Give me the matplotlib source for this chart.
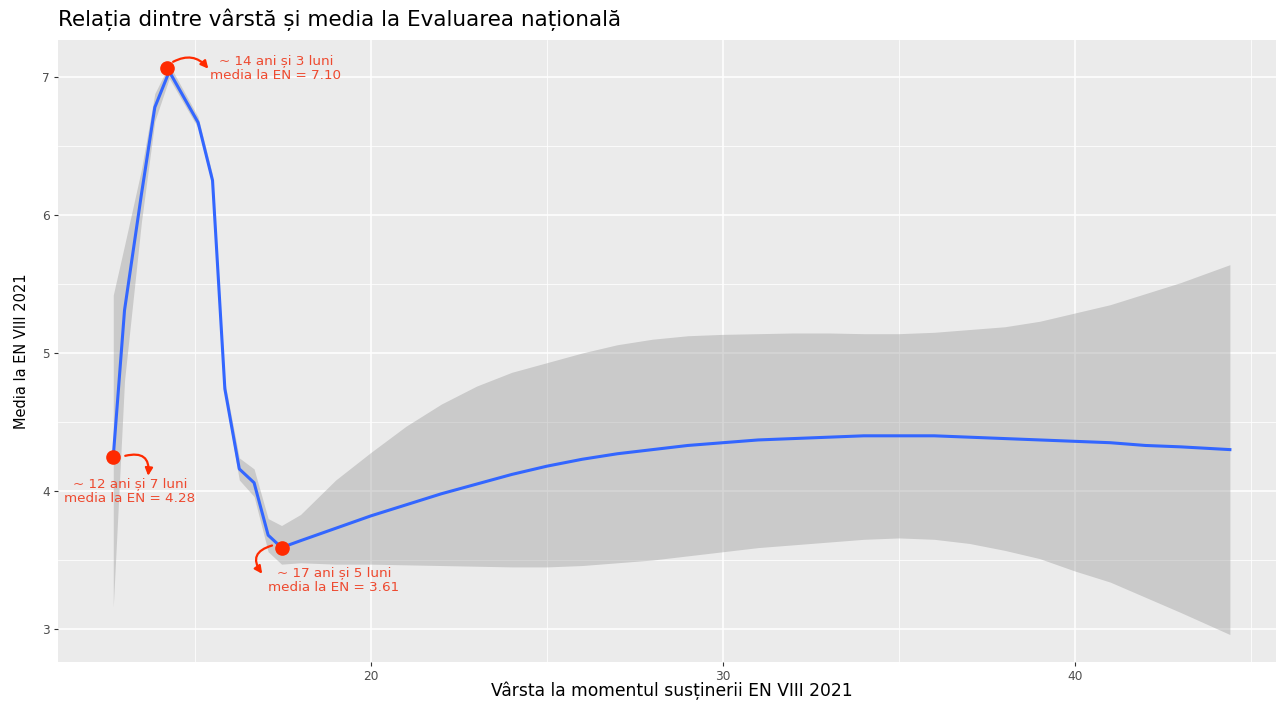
import matplotlib
matplotlib.use('Agg')
import matplotlib.pyplot as plt
import numpy as np

plt.rcParams['font.family'] = ['DejaVu Sans']

# piecewise part of the fit (young ages)
age_left = [12.68, 13.0, 13.48, 13.86, 14.27, 15.09, 15.5, 15.85, 16.26, 16.68, 17.08, 17.46]
mean_left = [4.25, 5.31, 6.15, 6.78, 7.04, 6.67, 6.25, 4.74, 4.16, 4.06, 3.68, 3.59]
upper_left = [5.42, 5.78, 6.33, 6.88, 7.09, 6.71, 6.29, 4.79, 4.24, 4.16, 3.80, 3.75]
lower_left = [3.16, 4.80, 5.95, 6.68, 6.99, 6.63, 6.21, 4.69, 4.08, 3.96, 3.56, 3.47]

# smooth part (older ages)
age_right = [17.46, 18, 19, 20, 21, 22, 23, 24, 25, 26, 27, 28, 29, 30, 31, 32, 33,
             34, 35, 36, 37, 38, 39, 40, 41, 42, 43, 44.4]
mean_right = [3.59, 3.64, 3.73, 3.82, 3.90, 3.98, 4.05, 4.12, 4.18, 4.23, 4.27, 4.30,
              4.33, 4.35, 4.37, 4.38, 4.39, 4.40, 4.40, 4.40, 4.39, 4.38, 4.37, 4.36,
              4.35, 4.33, 4.32, 4.30]
upper_right = [3.75, 3.83, 4.08, 4.28, 4.47, 4.63, 4.76, 4.86, 4.93, 5.00, 5.06, 5.10,
               5.125, 5.135, 5.14, 5.145, 5.145, 5.14, 5.14, 5.15, 5.17, 5.19, 5.23, 5.29,
               5.35, 5.43, 5.51, 5.64]
lower_right = [3.47, 3.48, 3.47, 3.47, 3.465, 3.46, 3.455, 3.45, 3.45, 3.46, 3.48, 3.50,
               3.53, 3.56, 3.59, 3.61, 3.63, 3.65, 3.66, 3.65, 3.62, 3.57, 3.51, 3.42,
               3.34, 3.23, 3.12, 2.96]

# highlighted points
pt_age = [12.67, 14.2, 17.47]
pt_mean = [4.25, 7.065, 3.59]
pt_labels = ['~ 12 ani și 7 luni\nmedia la EN = 4.28',
             '~ 14 ani și 3 luni\nmedia la EN = 7.10',
             '~ 17 ani și 5 luni\nmedia la EN = 3.61']
label_pos = [(13.15, 4.0), (17.3, 7.065), (18.95, 3.355)]
arrow_from = [(13.02, 4.255), (14.38, 7.11), (17.19, 3.605)]
arrow_to = [(13.67, 4.11), (15.38, 7.06), (16.91, 3.40)]
arrow_rad = [-0.7, -0.4, 0.7]

fig = plt.figure(figsize=(12.76, 7.01), dpi=100)
ax = fig.add_axes([58 / 1276, 1 - 662 / 701, 1 - 58 / 1276, 622 / 701])
ax.set_facecolor('#EBEBEB')

ages = age_left + age_right[1:]
upper = upper_left + upper_right[1:]
lower = lower_left + lower_right[1:]
means = mean_left + mean_right[1:]

ax.fill_between(ages, lower, upper, color='#999999', alpha=0.4, lw=0, zorder=2)
ax.plot(ages, means, color='#3366FF', lw=2.2, zorder=3)

ax.plot(pt_age, pt_mean, 'o', color='#FF2A00', ms=9.5, zorder=4)

for (tx, ty), lab in zip(label_pos, pt_labels):
    ax.text(tx, ty, lab, ha='center', va='center', color='#EE4A30',
            fontsize=9.7, linespacing=1.15, zorder=5)

for a, b, r in zip(arrow_from, arrow_to, arrow_rad):
    ax.annotate('', xy=b, xytext=a,
                arrowprops=dict(arrowstyle='-|>', color='#FF2A00', lw=1.6,
                                mutation_scale=11, shrinkA=0, shrinkB=0,
                                connectionstyle=f'arc3,rad={r}'), zorder=5)

ax.set_xlim(11.11, 45.71)
ax.set_ylim(2.761, 7.268)
ax.set_xticks([20, 30, 40])
ax.set_yticks([3, 4, 5, 6, 7])
ax.set_xticks([15, 25, 35, 45], minor=True)
ax.set_yticks([3.5, 4.5, 5.5, 6.5], minor=True)
ax.grid(which='major', color='white', lw=1.1, zorder=1)
ax.grid(which='minor', color='white', lw=0.55, zorder=1)
ax.set_axisbelow(True)
for s in ax.spines.values():
    s.set_visible(False)
ax.tick_params(which='major', length=3, width=0.8, color='#333333',
               labelcolor='#4D4D4D', labelsize=8.7, pad=3)
ax.tick_params(which='minor', length=0)

ax.set_xlabel('Vârsta la momentul susținerii EN VIII 2021', fontsize=12.3, color='black')
ax.xaxis.set_label_coords((672 - 58) / (1276 - 58), -0.031)
ax.set_ylabel('Media la EN VIII 2021', fontsize=10.5, color='black')
ax.yaxis.set_label_coords(-0.024, 0.5)

fig.text(58 / 1276, 1 - 20 / 701, 'Relația dintre vârstă și media la Evaluarea națională',
         fontsize=15.5, ha='left', va='center', color='black')

fig.savefig('out.png', dpi=100)
